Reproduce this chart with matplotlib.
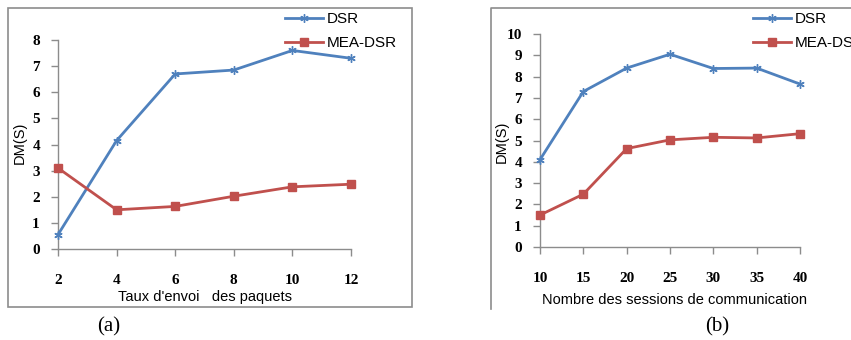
import matplotlib.pyplot as plt
from matplotlib.lines import Line2D

# --- data ---
taux = [2, 4, 6, 8, 10, 12]
dsr_a = [0.55, 4.15, 6.7, 6.85, 7.6, 7.3]
mea_a = [3.1, 1.5, 1.63, 2.02, 2.38, 2.48]

sessions = [10, 15, 20, 25, 30, 35, 40]
dsr_b = [4.1, 7.3, 8.4, 9.05, 8.38, 8.4, 7.65]
mea_b = [1.5, 2.48, 4.62, 5.03, 5.15, 5.12, 5.32]

W, H = 851, 340
BLUE = '#4F81BD'
RED = '#C0504D'
GRAY = '#8c8c8c'
SANS = 'Liberation Sans'
SERIF = 'Liberation Serif'

fig = plt.figure(figsize=(W / 100, H / 100), dpi=100)
fig.patch.set_facecolor('white')


def px_axes(x0, y0, x1, y1):
    # pixel box (top-left origin) -> figure axes
    return fig.add_axes([x0 / W, (H - y1) / H, (x1 - x0) / W, (y1 - y0) / H])


def fx(x):
    return x / W


def fy(y):
    return (H - y) / H


def style_axes(ax, xticks, ymax):
    for s in ['top', 'right']:
        ax.spines[s].set_visible(False)
    for s in ['left', 'bottom']:
        ax.spines[s].set_color(GRAY)
        ax.spines[s].set_linewidth(1)
    ax.set_xticks(xticks)
    ax.set_yticks(range(0, ymax + 1))
    ax.tick_params(axis='x', direction='out', length=5, width=1, color=GRAY,
                   pad=13)
    ax.tick_params(axis='y', direction='out', length=5, width=1, color=GRAY,
                   pad=8)
    for lab in ax.get_xticklabels() + ax.get_yticklabels():
        lab.set_fontfamily(SERIF)
        lab.set_fontweight('bold')
        lab.set_fontsize(11)
    ax.set_facecolor('none')


def plot_series(ax, x, d, m):
    ax.plot(x, d, color=BLUE, lw=2.0, marker=(6, 2, 0), ms=6, mew=1.0,
            mec=BLUE, clip_on=False, zorder=3)
    ax.plot(x, m, color=RED, lw=2.0, marker='s', ms=5.5, mec=RED, mfc=RED,
            clip_on=False, zorder=3)


def legend_at(x0, y_top):
    handles = [
        Line2D([], [], color=BLUE, lw=2.0, marker=(6, 2, 0), ms=6, mew=1.0),
        Line2D([], [], color=RED, lw=2.0, marker='s', ms=5.5),
    ]
    fig.legend(handles, ['DSR', 'MEA-DSR'], loc='upper left',
               bbox_to_anchor=(fx(x0), fy(y_top)), frameon=False,
               prop={'family': SANS, 'size': 11}, handlelength=2.5,
               handletextpad=0.2, labelspacing=0.65, borderpad=0,
               borderaxespad=0)


# --- panel (a) ---
ax1 = px_axes(58, 40, 351, 249)
plot_series(ax1, taux, dsr_a, mea_a)
ax1.set_xlim(2, 12)
ax1.set_ylim(0, 8)
style_axes(ax1, taux, 8)
fig.text(fx(20), fy(143), 'DM(S)', rotation=90, ha='center', va='center',
         family=SANS, fontsize=10.5)
fig.text(fx(205), fy(297), "Taux d'envoi   des paquets", ha='center',
         va='center', family=SANS, fontsize=10.5)
fig.text(fx(109), fy(327), '(a)', ha='center', va='center', family=SERIF,
         fontsize=15)
fig.add_artist(plt.Rectangle((fx(8), fy(307)), fx(404), (307 - 8) / H,
                             transform=fig.transFigure, fill=False,
                             edgecolor=GRAY, lw=1.2))
legend_at(285, 12)

# --- panel (b) ---
ax2 = px_axes(540, 34, 800, 247)
plot_series(ax2, sessions, dsr_b, mea_b)
ax2.set_xlim(10, 40)
ax2.set_ylim(0, 10)
style_axes(ax2, sessions, 10)
fig.text(fx(502), fy(142), 'DM(S)', rotation=90, ha='center', va='center',
         family=SANS, fontsize=10.5)
fig.text(fx(675), fy(300), 'Nombre des sessions de communication',
         ha='center', va='center', family=SANS, fontsize=10.5)
fig.text(fx(717), fy(327), '(b)', ha='center', va='center', family=SERIF,
         fontsize=15)
fig.add_artist(Line2D([fx(491), fx(491), fx(851)], [fy(309), fy(8), fy(8)],
                      transform=fig.transFigure, color=GRAY, lw=1.2))
legend_at(753, 12)

fig.savefig('out.png', dpi=100, facecolor='white')
